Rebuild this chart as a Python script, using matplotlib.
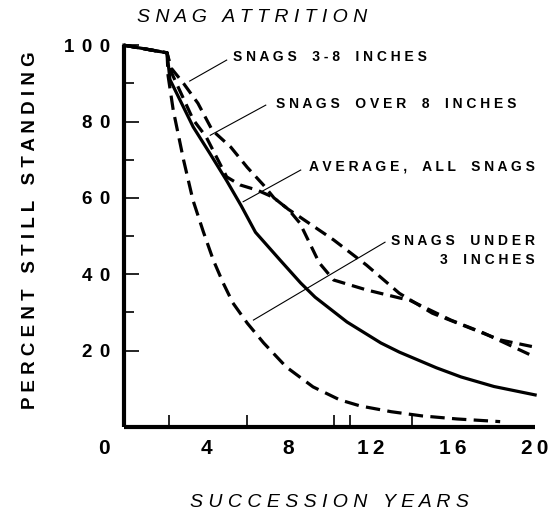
#!/usr/bin/env python
"""
Snag attrition chart: percent of snags still standing over succession years
"""

import matplotlib.pyplot as plt
from matplotlib.transforms import ScaledTranslation

plt.rcParams['font.family'] = ['Liberation Sans', 'DejaVu Sans']

# curves (years, percent standing)
under3_years = [0, 2.1, 2.15, 2.4, 2.9, 3.36, 3.86, 4.35, 4.83, 5.3, 6.0, 6.8, 7.9, 9.2, 10.5, 11.5, 13.0, 14.5, 16.2, 18.3]
under3_pct = [100, 98, 92, 83, 70, 59.4, 51.2, 43.7, 37.7, 32.5, 27.2, 22, 15.7, 10.5, 7.1, 5.5, 4.0, 2.9, 2.1, 1.4]

avg_years = [0, 2.1, 2.24, 3.37, 4.2, 5.0, 5.7, 6.4, 7.6, 8.6, 9.3, 10.85, 12.5, 13.4, 15.2, 16.4, 18.0, 20.0]
avg_pct = [100, 98, 91, 78.6, 71.5, 64.5, 58, 51, 43.7, 37.7, 34, 27.5, 22, 19.6, 15.5, 13.1, 10.6, 8.4]

mid_years = [0, 2.1, 2.3, 2.9, 3.6, 4.3, 5.2, 6.0, 6.8, 7.3, 8.0, 8.56, 10.2, 11.8, 13.4, 15.0, 16.7, 18.3, 20.0]
mid_pct = [100, 98, 94, 90, 84.8, 77.7, 73.3, 68, 63.3, 60, 57, 55, 49, 42.4, 35, 29.8, 26.2, 22.8, 20.9]

over8_years = [0, 2.1, 2.3, 3.37, 4.0, 5.0, 5.65, 6.5, 7.25, 8.0, 8.56, 9.5, 10.2, 11.8, 13.4, 13.9, 15.9, 17.5, 20.0]
over8_pct = [100, 98, 93, 80.5, 76, 65.5, 63.4, 62, 60.2, 57, 53.4, 43, 38.5, 35.9, 33.8, 33.2, 28, 24.6, 18.3]

# curve labels: text, text anchor, end of pointer on the curve
label_texts = ['SNAGS 3-8 INCHES', 'SNAGS OVER 8 INCHES', 'AVERAGE, ALL SNAGS', 'SNAGS UNDER\n3 INCHES']
label_xy = [(5.3, 97.0), (7.4, 84.6), (9.0, 68.3), (20.0, 46.2)]
label_ha = ['left', 'left', 'left', 'right']
pointer_from = [(3.2, 90.6), (4.2, 76.4), (5.8, 59.0), (6.3, 28.0)]
pointer_to = [(5.0, 96.1), (6.9, 84.3), (8.6, 67.3), (12.7, 48.4)]

x_labels = ['0', '4', '8', '12', '16', '20']
x_label_pos = [0, 4, 8, 12, 16, 20]
y_label_pos = [20, 40, 60, 80, 100]


def spread(text, gap=' ', word_gap='   '):
    # the scan uses very wide letter spacing
    lines = []
    for line in text.split('\n'):
        lines.append(word_gap.join(gap.join(w) for w in line.split(' ')))
    return '\n'.join(lines)


fig = plt.figure(figsize=(5.58, 5.23), dpi=100)
ax = fig.add_axes([0.222, 0.1836, 0.737, 0.730])

ax.plot(avg_years, avg_pct, color='black', lw=2.3, clip_on=False, zorder=4)
ax.plot(under3_years, under3_pct, color='black', lw=2.3, dashes=(4.5, 2.3), clip_on=False)
ax.plot(mid_years, mid_pct, color='black', lw=2.3, dashes=(4, 2.2), clip_on=False)
ax.plot(over8_years, over8_pct, color='black', lw=2.3, dashes=(4, 2.2), clip_on=False)

for (x0, y0), (x1, y1) in zip(pointer_from, pointer_to):
    ax.plot([x0, x1], [y0, y1], color='black', lw=0.8)

for txt, (tx, ty), ha in zip(label_texts, label_xy, label_ha):
    ax.text(tx, ty, spread(txt, ' ', '    '), ha=ha, va='center', fontsize=10,
            fontweight='bold', linespacing=1.5, multialignment='right')

ax.set_xlim(0, 20)
ax.set_ylim(0, 100)

for side in ['top', 'right']:
    ax.spines[side].set_visible(False)
for side in ['left', 'bottom']:
    ax.spines[side].set_linewidth(3)
    ax.spines[side].set_capstyle('butt')

ax.set_xticks(x_label_pos)
ax.set_xticklabels([spread(s, '\u2009') for s in x_labels])
ax.set_xticks([2.2, 4, 6, 8, 10.2, 11, 14, 16, 20], minor=True)
ax.tick_params(axis='x', which='major', length=0, pad=9, labelsize=15)
ax.tick_params(axis='x', which='minor', direction='in', length=9, width=1.2)
for lab in ax.get_xticklabels():
    lab.set_fontweight('bold')
ax.get_xticklabels()[0].set_transform(
    ax.get_xticklabels()[0].get_transform() + ScaledTranslation(-0.2, 0, fig.dpi_scale_trans))

ax.set_yticks(y_label_pos)
ax.set_yticklabels([spread(str(v), '\u2009\u2009') for v in y_label_pos])
ax.set_yticks([30, 50, 70, 90], minor=True)
ax.tick_params(axis='y', which='major', direction='in', length=11, width=1.2, pad=10, labelsize=13.5)
ax.tick_params(axis='y', which='minor', direction='in', length=7, width=1.2)
for lab in ax.get_yticklabels():
    lab.set_fontweight('bold')

fig.text(0.054, 0.56, spread('PERCENT STILL STANDING'), rotation=90, ha='center', va='center',
         fontsize=13.5, fontweight='bold')
fig.text(0.245, 0.966, spread('SNAG ATTRITION'), ha='left', va='center', fontsize=14, style='italic')
fig.text(0.59, 0.04, spread('SUCCESSION YEARS'), ha='center', va='center', fontsize=14, style='italic')

fig.savefig('out.png', dpi=100)
